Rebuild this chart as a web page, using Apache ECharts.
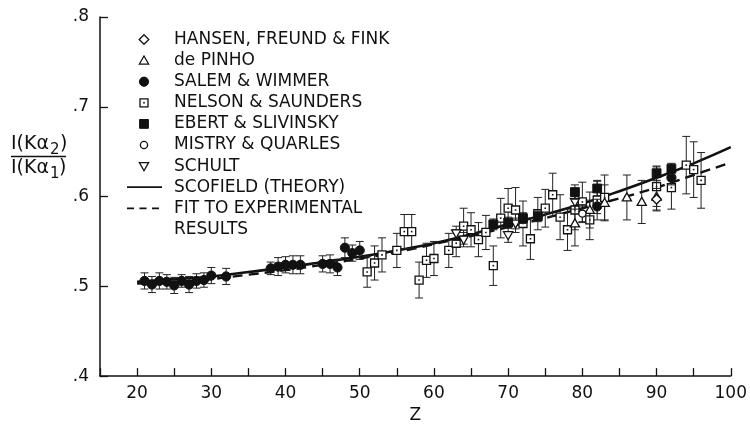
<!DOCTYPE html>
<html>
<head>
<meta charset="utf-8">
<script src="https://cdn.jsdelivr.net/npm/echarts@6/dist/echarts.min.js"></script>
<style>
  html, body { margin: 0; padding: 0; background: #fff; }
  #chart { width: 750px; height: 429px; }
</style>
</head>
<body>
<div id="chart"></div>
<script>
// Intensity ratio I(Kα2)/I(Kα1) versus atomic number Z.
// Each measurement row: [Z, ratio, error].
const hansen = [[90, 0.597, 0.012]];
const dePinho = [
  [79, 0.570, 0.025], [81, 0.585, 0.020], [83, 0.593, 0.020],
  [86, 0.599, 0.025], [88, 0.594, 0.024], [90, 0.600, 0.016]
];
const salem = [
  [21, 0.506, 0.009], [22, 0.502, 0.009], [23, 0.506, 0.009], [24, 0.505, 0.008],
  [25, 0.501, 0.009], [26, 0.506, 0.007], [27, 0.502, 0.009], [28, 0.506, 0.008],
  [29, 0.507, 0.008], [30, 0.512, 0.009], [32, 0.511, 0.009], [38, 0.520, 0.007],
  [39, 0.522, 0.010], [40, 0.524, 0.009], [41, 0.524, 0.010], [42, 0.524, 0.010],
  [45, 0.525, 0.009], [46, 0.525, 0.010], [47, 0.521, 0.009], [48, 0.543, 0.011],
  [49, 0.537, 0.009], [50, 0.540, 0.010], [82, 0.589, 0.008], [92, 0.621, 0.008]
];
const nelson = [
  [51, 0.516, 0.017], [52, 0.526, 0.019], [53, 0.535, 0.019], [55, 0.540, 0.019],
  [56, 0.561, 0.019], [57, 0.561, 0.019], [58, 0.507, 0.020], [59, 0.529, 0.019],
  [60, 0.531, 0.019], [62, 0.540, 0.019], [63, 0.548, 0.015], [64, 0.567, 0.020],
  [65, 0.563, 0.019], [66, 0.552, 0.019], [67, 0.560, 0.019], [68, 0.523, 0.022],
  [69, 0.576, 0.022], [70, 0.587, 0.022], [71, 0.585, 0.025], [72, 0.570, 0.025],
  [73, 0.553, 0.023], [74, 0.581, 0.018], [75, 0.587, 0.021], [76, 0.602, 0.024],
  [77, 0.577, 0.025], [78, 0.563, 0.023], [79, 0.585, 0.022], [80, 0.594, 0.022],
  [81, 0.574, 0.022], [82, 0.596, 0.022], [83, 0.599, 0.025], [90, 0.611, 0.022],
  [92, 0.610, 0.024], [94, 0.635, 0.032], [95, 0.630, 0.031], [96, 0.618, 0.031]
];
const ebert = [
  [68, 0.569, 0.006], [70, 0.571, 0.006], [72, 0.576, 0.006], [74, 0.578, 0.006],
  [79, 0.605, 0.008], [82, 0.609, 0.008], [90, 0.626, 0.008], [92, 0.631, 0.006]
];
const mistry = [[80, 0.581, 0.010]];
const schult = [
  [63, 0.559, 0.008], [64, 0.552, 0.008], [70, 0.557, 0.008],
  [71, 0.570, 0.006], [79, 0.594, 0.008]
];

// Smooth curves: theory and the fit to the measurements.
const curveZ = [20, 25, 30, 35, 40, 45, 50, 55, 60, 65, 70, 75, 80, 85, 90, 95, 100];
const scofieldRatio = [0.505, 0.508, 0.511, 0.516, 0.521, 0.527, 0.533, 0.540, 0.548,
                       0.558, 0.569, 0.580, 0.592, 0.606, 0.621, 0.637, 0.655];
const fitRatio = [0.503, 0.505, 0.508, 0.513, 0.518, 0.524, 0.531, 0.538, 0.547,
                  0.556, 0.566, 0.576, 0.587, 0.598, 0.610, 0.624, 0.638];

const yTicks = ['.4', '.5', '.6', '.7', '.8'];

const INK = '#111';
const FONT = '"DejaVu Sans", "Liberation Sans", sans-serif';

// Marker drawing shared by the plot and the key.
function marker(kind, x, y) {
  const sw = 1.3;
  const open = { fill: '#fff', stroke: INK, lineWidth: sw };
  const solid = { fill: INK, stroke: INK, lineWidth: 1 };
  switch (kind) {
    case 'diamond': {
      const h = 4.8;
      return [{ type: 'polygon', shape: { points: [[x, y - h], [x + h, y], [x, y + h], [x - h, y]] }, style: open }];
    }
    case 'triUp': {
      const h = 4.6;
      return [{ type: 'polygon', shape: { points: [[x, y - h], [x + h, y + h * 0.75], [x - h, y + h * 0.75]] }, style: open }];
    }
    case 'triDown': {
      const h = 4.6;
      return [{ type: 'polygon', shape: { points: [[x - h, y - h * 0.75], [x + h, y - h * 0.75], [x, y + h]] }, style: open }];
    }
    case 'dot':
      return [{ type: 'circle', shape: { cx: x, cy: y, r: 4.6 }, style: solid }];
    case 'ring':
      return [{ type: 'circle', shape: { cx: x, cy: y, r: 3.6 }, style: open }];
    case 'box': {
      const h = 4;
      return [
        { type: 'rect', shape: { x: x - h, y: y - h, width: 2 * h, height: 2 * h }, style: open },
        { type: 'rect', shape: { x: x - 0.8, y: y - 0.8, width: 1.6, height: 1.6 }, style: { fill: INK } }
      ];
    }
    case 'block': {
      const h = 4.4;
      return [{ type: 'rect', shape: { x: x - h, y: y - h, width: 2 * h, height: 2 * h }, style: solid }];
    }
  }
  return [];
}

function errorSeries(name, rows, kind) {
  return {
    type: 'custom',
    name: name,
    data: rows,
    z: 5,
    renderItem: function (params, api) {
      const z = api.value(0), v = api.value(1), e = api.value(2);
      const c = api.coord([z, v]);
      const hi = api.coord([z, v + e])[1];
      const lo = api.coord([z, v - e])[1];
      const cap = 4;
      const bar = { stroke: '#222', lineWidth: 1 };
      return {
        type: 'group',
        children: [
          { type: 'line', shape: { x1: c[0], y1: hi, x2: c[0], y2: lo }, style: bar },
          { type: 'line', shape: { x1: c[0] - cap, y1: hi, x2: c[0] + cap, y2: hi }, style: bar },
          { type: 'line', shape: { x1: c[0] - cap, y1: lo, x2: c[0] + cap, y2: lo }, style: bar }
        ].concat(marker(kind, c[0], c[1]))
      };
    }
  };
}

function zip(xs, ys) { return xs.map((x, i) => [x, ys[i]]); }

// Key in the upper left of the plot area.
const keyEntries = [
  { label: 'HANSEN, FREUND & FINK', kind: 'diamond' },
  { label: 'de PINHO', kind: 'triUp' },
  { label: 'SALEM & WIMMER', kind: 'dot' },
  { label: 'NELSON & SAUNDERS', kind: 'box' },
  { label: 'EBERT & SLIVINSKY', kind: 'block' },
  { label: 'MISTRY & QUARLES', kind: 'ring' },
  { label: 'SCHULT', kind: 'triDown' },
  { label: 'SCOFIELD (THEORY)', kind: 'solid' },
  { label: 'FIT TO EXPERIMENTAL', kind: 'dashed' },
  { label: 'RESULTS', kind: null }
];
const keyTop = 39.5, keyStep = 21.1, keySymX = 144, keyTextX = 174;
const keyGraphics = [];
keyEntries.forEach((k, i) => {
  const y = keyTop + i * keyStep;
  if (k.kind === 'solid') {
    keyGraphics.push({ type: 'line', shape: { x1: 127, y1: y, x2: 162, y2: y }, style: { stroke: INK, lineWidth: 1.8 } });
  } else if (k.kind === 'dashed') {
    keyGraphics.push({ type: 'line', shape: { x1: 127, y1: y, x2: 163, y2: y }, style: { stroke: INK, lineWidth: 1.8, lineDash: [7, 5.5] } });
  } else if (k.kind) {
    marker(k.kind, keySymX, y).forEach(m => keyGraphics.push(m));
  }
  keyGraphics.push({
    type: 'text', x: keyTextX, y: y,
    style: { text: k.label, fill: INK, font: '17px ' + FONT, verticalAlign: 'middle', align: 'left' }
  });
});

// Y-axis title drawn as a stacked fraction.
const titleFont = '19px ' + FONT, subFont = '15px ' + FONT;
const yTitle = [
  { type: 'text', x: 11, y: 144, style: { text: 'I(Kα', fill: INK, font: titleFont, verticalAlign: 'middle' } },
  { type: 'text', x: 50, y: 150, style: { text: '2', fill: INK, font: subFont, verticalAlign: 'middle' } },
  { type: 'text', x: 60, y: 144, style: { text: ')', fill: INK, font: titleFont, verticalAlign: 'middle' } },
  { type: 'line', shape: { x1: 11, y1: 156.5, x2: 66, y2: 156.5 }, style: { stroke: INK, lineWidth: 1.4 } },
  { type: 'text', x: 11, y: 168, style: { text: 'I(Kα', fill: INK, font: titleFont, verticalAlign: 'middle' } },
  { type: 'text', x: 50, y: 174, style: { text: '1', fill: INK, font: subFont, verticalAlign: 'middle' } },
  { type: 'text', x: 59, y: 168, style: { text: ')', fill: INK, font: titleFont, verticalAlign: 'middle' } }
];

const chart = echarts.init(document.getElementById('chart'), null, { renderer: 'canvas' });
chart.setOption({
  backgroundColor: '#fff',
  animation: false,
  grid: { left: 100, right: 18, top: 17, bottom: 42, containLabel: false },
  xAxis: {
    type: 'value', min: 15, max: 100, interval: 5,
    name: 'Z', nameLocation: 'middle', nameGap: 26,
    nameTextStyle: { color: INK, fontSize: 17, fontFamily: FONT },
    axisLine: { lineStyle: { color: INK, width: 1.5 } },
    axisTick: { inside: true, length: 8, lineStyle: { color: INK, width: 1.3 } },
    axisLabel: {
      color: INK, fontSize: 17, fontFamily: FONT, margin: 9,
      formatter: v => (v >= 20 && v % 10 === 0) ? String(v) : ''
    },
    splitLine: { show: false }
  },
  yAxis: {
    type: 'value', min: 0.4, max: 0.8, interval: 0.1,
    axisLine: { show: true, lineStyle: { color: INK, width: 1.5 } },
    axisTick: { show: true, inside: true, length: 8, lineStyle: { color: INK, width: 1.3 } },
    axisLabel: {
      color: INK, fontSize: 17, fontFamily: FONT, margin: 11,
      formatter: v => yTicks[Math.round((v - 0.4) * 10)] || ''
    },
    splitLine: { show: false }
  },
  series: [
    {
      type: 'line', name: 'SCOFIELD (THEORY)', data: zip(curveZ, scofieldRatio),
      smooth: 0.4, showSymbol: false, z: 3,
      lineStyle: { color: INK, width: 2.6 }
    },
    {
      type: 'line', name: 'FIT TO EXPERIMENTAL RESULTS', data: zip(curveZ, fitRatio),
      smooth: 0.4, showSymbol: false, z: 3,
      lineStyle: { color: INK, width: 2.4, type: [10, 6] }
    },
    errorSeries('NELSON & SAUNDERS', nelson, 'box'),
    errorSeries('SALEM & WIMMER', salem, 'dot'),
    errorSeries('de PINHO', dePinho, 'triUp'),
    errorSeries('SCHULT', schult, 'triDown'),
    errorSeries('EBERT & SLIVINSKY', ebert, 'block'),
    errorSeries('MISTRY & QUARLES', mistry, 'ring'),
    errorSeries('HANSEN, FREUND & FINK', hansen, 'diamond')
  ],
  graphic: keyGraphics.concat(yTitle)
});
</script>
</body>
</html>
